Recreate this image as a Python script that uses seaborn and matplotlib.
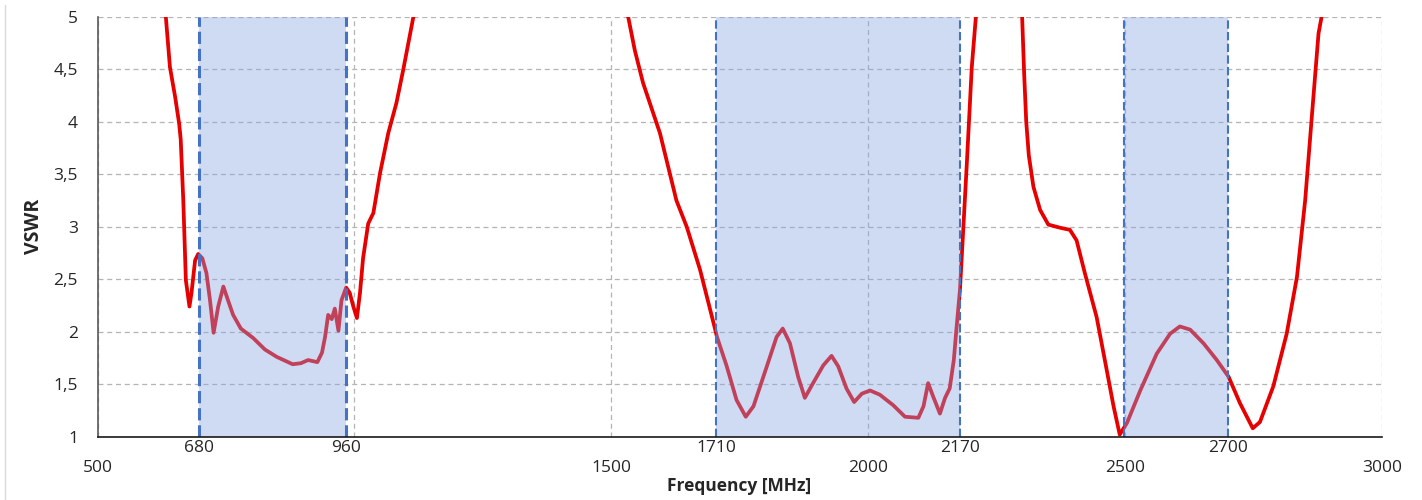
import numpy as np
import pandas as pd
import matplotlib
matplotlib.use("Agg")
import matplotlib.pyplot as plt
from matplotlib.lines import Line2D
import seaborn as sns

# VSWR curve, three pieces
seg1_freq = [630, 633, 641, 651, 659, 662, 667, 672, 679, 683, 690, 696, 704, 712, 719, 726,
             735, 745, 754, 764, 779, 803, 826, 849, 880, 896, 910, 928, 937, 943, 949, 956,
             962, 969, 975, 984, 991, 998, 1005, 1011, 1017, 1027, 1037, 1050, 1066, 1082,
             1095, 1115]
seg1_vswr = [5.3, 5.0, 4.52, 4.24, 3.98, 3.83, 3.25, 2.49, 2.24, 2.37, 2.68, 2.74, 2.70, 2.56,
             2.30, 1.99, 2.24, 2.43, 2.30, 2.16, 2.03, 1.94, 1.83, 1.76, 1.69, 1.70, 1.73, 1.71,
             1.80, 1.95, 2.16, 2.12, 2.22, 2.01, 2.30, 2.42, 2.37, 2.24, 2.13, 2.37, 2.70, 3.03,
             3.13, 3.51, 3.89, 4.18, 4.49, 5.0]

seg2_freq = [1530, 1533, 1546, 1562, 1595, 1627, 1647, 1673, 1702, 1706, 1725, 1744, 1762,
             1777, 1803, 1822, 1834, 1848, 1864, 1877, 1893, 1913, 1929, 1942, 1958, 1973,
             1988, 2004, 2023, 2049, 2072, 2098, 2108, 2117, 2127, 2140, 2150, 2159, 2167,
             2172, 2179, 2192, 2202, 2210]
seg2_vswr = [5.1, 5.0, 4.68, 4.37, 3.89, 3.25, 3.0, 2.59, 2.03, 1.95, 1.67, 1.35, 1.19, 1.29,
             1.67, 1.95, 2.03, 1.89, 1.57, 1.37, 1.51, 1.68, 1.77, 1.67, 1.46, 1.33, 1.41,
             1.44, 1.40, 1.30, 1.19, 1.18, 1.29, 1.51, 1.38, 1.22, 1.37, 1.46, 1.73, 2.02,
             2.40, 3.57, 4.52, 5.0]

seg3_freq = [2299, 2300, 2304, 2308, 2313, 2322, 2335, 2351, 2374, 2393, 2406, 2422, 2445,
             2461, 2478, 2490, 2504, 2530, 2562, 2588, 2607, 2627, 2653, 2679, 2702, 2724,
             2749, 2763, 2789, 2815, 2835, 2851, 2864, 2877, 2883]
seg3_vswr = [5.3, 5.0, 4.45, 4.0, 3.68, 3.38, 3.16, 3.02, 2.99, 2.97, 2.87, 2.56, 2.14,
             1.73, 1.29, 1.02, 1.13, 1.44, 1.79, 1.98, 2.05, 2.02, 1.89, 1.73, 1.57, 1.32,
             1.08, 1.14, 1.48, 1.98, 2.52, 3.25, 4.05, 4.84, 5.0]

# frequency bands (shaded) and their labels
band_start = [698, 1704, 2499]
band_end = [984, 2179, 2701]
edge_ticks = [698, 984, 1704, 2179, 2701]
edge_labels = ["680", "960", "1710", "2170", "2700"]

major_ticks = [500, 1000, 1500, 2000, 2500, 3000]
major_labels = ["500", "", "1500", "2000", "2500", "3000"]
y_ticks = [1, 1.5, 2, 2.5, 3, 3.5, 4, 4.5, 5]

sns.set_style("white")
plt.rcParams["font.family"] = ["Open Sans", "DejaVu Sans"]

fig = plt.figure(figsize=(14.22, 5), dpi=100)
ax = fig.add_axes([0.06857, 0.1266, 0.90309, 0.84])

red = "#e60000"
for f, v in [(seg1_freq, seg1_vswr), (seg2_freq, seg2_vswr), (seg3_freq, seg3_vswr)]:
    df = pd.DataFrame({"freq": f, "vswr": v})
    sns.lineplot(data=df, x="freq", y="vswr", sort=False, estimator=None, color=red,
                 linewidth=2.7, ax=ax, zorder=2, solid_joinstyle="round", solid_capstyle="round")

# the shaded band sits over the curve, which gives the muted red inside it
band_color = "#87a5e1"
blue = "#4472C4"
for i, (s, e) in enumerate(zip(band_start, band_end)):
    ax.axvspan(s, e, color=band_color, alpha=0.4, lw=0, zorder=3)
    lw = 2.2 if i == 0 else 1.5
    for x in (s, e):
        ax.axvline(x, color=blue, lw=lw, ls=(0, (4, 1.6)), zorder=4)

ax.set_xlim(500, 3000)
ax.set_ylim(1, 5)

ax.set_xticks(major_ticks)
ax.set_xticklabels(major_labels)
ax.set_xticks(edge_ticks, minor=True)
ax.set_xticklabels(edge_labels, minor=True)
ax.set_yticks(y_ticks)
ax.set_yticklabels([f"{t:g}".replace(".", ",") for t in y_ticks])

ax.tick_params(axis="x", which="major", length=0, pad=16.5, labelsize=12.5, colors="#262626")
ax.tick_params(axis="x", which="minor", length=0, pad=2.5, labelsize=12.5, colors="#262626")
ax.tick_params(axis="y", length=0, pad=14, labelsize=12.5, colors="#262626")

grid_kw = dict(color="#b4b4b4", lw=0.9, ls=(0, (4, 3)))
ax.grid(axis="y", **grid_kw)
ax.grid(axis="x", which="major", **grid_kw)
ax.set_axisbelow(True)

for side in ("top", "right"):
    ax.spines[side].set_visible(False)
ax.spines["left"].set_color("#595959")
ax.spines["left"].set_linewidth(1.2)
ax.spines["bottom"].set_color("#1a1a1a")
ax.spines["bottom"].set_linewidth(1.2)
ax.spines["left"].set_zorder(5)
ax.spines["bottom"].set_zorder(5)

ax.set_xlabel("Frequency [MHz]", fontsize=12.5, fontweight="bold", color="#262626")
ax.set_ylabel("VSWR", fontsize=14, fontweight="bold", color="#262626")
ax.xaxis.set_label_coords(0.5, -0.096)
ax.yaxis.set_label_coords(-0.0415, 0.5)

# faint chart border on the left
fig.add_artist(Line2D([4.5 / 1422, 4.5 / 1422], [0, 1 - 5 / 500], color="#d9d9d9", lw=1))

fig.savefig("out.png", dpi=100)
